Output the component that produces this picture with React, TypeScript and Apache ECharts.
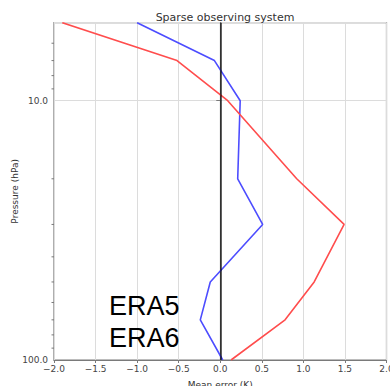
import React, { useEffect, useRef } from "react";
import * as echarts from "echarts";

const pressureLevels = [5, 7, 10, 20, 30, 50, 70, 100];
const era5Errors = [-1.0, -0.07, 0.24, 0.21, 0.51, -0.12, -0.24, 0.03];
const era6Errors = [-1.9, -0.52, 0.09, 0.92, 1.49, 1.13, 0.78, 0.13];
const minorPressures = [6, 7, 8, 9, 20, 30, 40, 50, 60, 70, 80, 90];
const majorPressureLabels = [10, 100];
const xMin = -2;
const xMax = 2;
const xStep = 0.5;

const FONT = "DejaVu Sans";

export default function App() {
  const ref = useRef<HTMLDivElement>(null);
  useEffect(() => {
    if (!ref.current) return;
    const chart = echarts.init(ref.current, undefined, { renderer: "svg" });
    const frame = "#7a7a7a";
    chart.setOption({
      animation: false,
      title: {
        text: "Sparse observing system",
        left: 220,
        textAlign: "center",
        top: 7,
        textStyle: { fontFamily: FONT, fontSize: 11, fontWeight: "normal", color: "#333" },
      },
      legend: {
        data: ["ERA5", "ERA6"],
        orient: "vertical",
        left: 99,
        top: 286,
        itemWidth: 0,
        itemHeight: 0,
        itemGap: 2,
        icon: "rect",
        textStyle: { fontFamily: "Liberation Sans", fontSize: 27, color: "#000", lineHeight: 30 },
        selectedMode: false,
      },
      grid: {
        left: 54,
        right: 3.5,
        top: 22.7,
        bottom: 26,
        show: true,
        containLabel: false,
        outerBoundsMode: "none",
        borderColor: frame,
        borderWidth: 1.2,
        backgroundColor: "transparent",
      },
      xAxis: {
        type: "value",
        min: xMin,
        max: xMax,
        interval: xStep,
        name: "Mean error (K)",
        nameLocation: "middle",
        nameGap: 20,
        nameMoveOverlap: false,
        nameTextStyle: { fontFamily: FONT, fontSize: 9, color: "#333" },
        axisLine: { show: true, onZero: false, lineStyle: { color: frame, width: 1.2 } },
        axisTick: { show: true, length: 3, lineStyle: { color: frame } },
        axisLabel: {
          fontFamily: FONT,
          fontSize: 9,
          color: "#444",
          margin: 4,
          formatter: (v: number) => (v < 0 ? "\u2212" + Math.abs(v).toFixed(1) : v.toFixed(1)),
        },
        splitLine: { show: true, lineStyle: { color: "#dcdcdc", width: 1 } },
      },
      yAxis: {
        type: "log",
        logBase: 10,
        min: pressureLevels[0],
        max: pressureLevels[pressureLevels.length - 1],
        inverse: true,
        name: "Pressure (hPa)",
        nameLocation: "middle",
        nameGap: 35,
        nameMoveOverlap: false,
        nameTextStyle: { fontFamily: FONT, fontSize: 9, color: "#333" },
        axisLine: { show: true, lineStyle: { color: frame, width: 1.2 } },
        axisTick: { show: true, length: 4, lineStyle: { color: frame } },
        axisLabel: {
          fontFamily: FONT,
          fontSize: 9,
          color: "#444",
          margin: 6,
          showMinLabel: false,
          formatter: (v: number) => {
            const r = Math.round(v);
            return majorPressureLabels.includes(r) ? r.toFixed(1) : "";
          },
        },
        splitLine: { show: true, lineStyle: { color: "#dcdcdc", width: 1 } },
      },
      series: [
        {
          name: "ERA5",
          type: "line",
          data: pressureLevels.map((p, i) => [era5Errors[i], p]),
          showSymbol: false,
          lineStyle: { color: "#4d4dff", width: 1.6 },
          itemStyle: { color: "#4d4dff" },
          z: 3,
          markLine: {
            silent: true,
            symbol: "none",
            label: { show: false },
            lineStyle: { color: "#000", width: 1.5, type: "solid", opacity: 0.8 },
            data: [{ xAxis: 0 }],
          },
        },
        {
          name: "ERA6",
          type: "line",
          data: pressureLevels.map((p, i) => [era6Errors[i], p]),
          showSymbol: false,
          lineStyle: { color: "#ff4d4d", width: 1.6 },
          itemStyle: { color: "#ff4d4d" },
          z: 3,
        },
        {
          name: "minorTicks",
          type: "custom",
          clip: false,
          silent: true,
          data: minorPressures.map((p) => [xMin, p]),
          renderItem: (params: any, api: any) => {
            const c = api.coord([api.value(0), api.value(1)]);
            return {
              type: "line",
              shape: { x1: c[0] - 2.5, y1: c[1], x2: c[0], y2: c[1] },
              style: { stroke: frame, lineWidth: 1 },
            };
          },
        },
      ],
    });
    return () => chart.dispose();
  }, []);
  return (
    <div
      ref={ref}
      style={{ width: 390, height: 386, position: "absolute", left: 0, top: 0, background: "#fff" }}
    />
  );
}
